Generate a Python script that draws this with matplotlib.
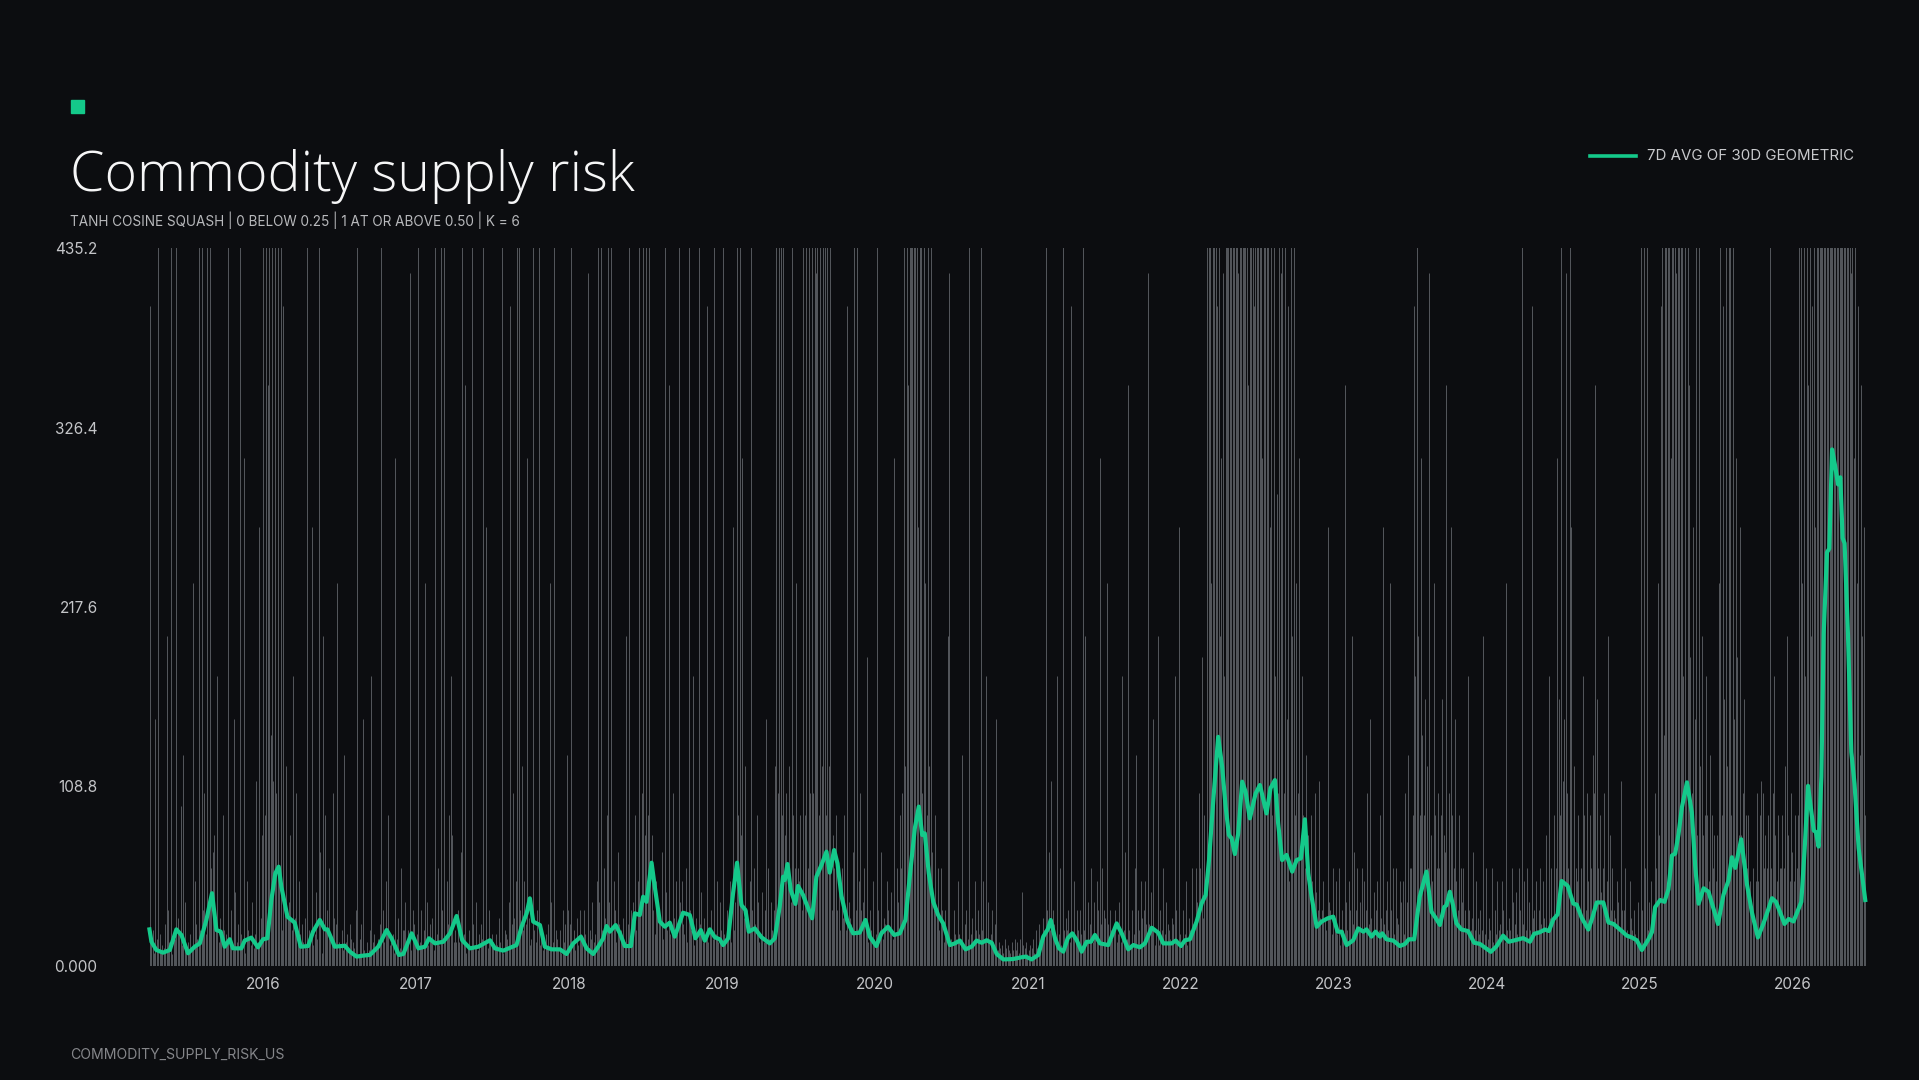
import matplotlib
matplotlib.use("Agg")
from matplotlib import pyplot as plt
from matplotlib.lines import Line2D
from matplotlib.patches import Rectangle
import pandas as pd

BG = "#0c0d10"
GREEN = "#14c98a"
BAR_GREY = "#55585d"

# 7D avg of 30D geometric as (decimal year, value)
line_t = [
    2015.259, 2015.272, 2015.304, 2015.348, 2015.392, 2015.435, 2015.468, 2015.511, 2015.555, 2015.588,
    2015.631, 2015.668, 2015.697, 2015.725, 2015.751, 2015.784, 2015.805, 2015.860, 2015.882, 2015.925,
    2015.969, 2016.002, 2016.030, 2016.056, 2016.082, 2016.104, 2016.121, 2016.161, 2016.208, 2016.248,
    2016.296, 2016.328, 2016.372, 2016.405, 2016.422, 2016.470, 2016.535, 2016.568, 2016.612, 2016.655,
    2016.699, 2016.753, 2016.808, 2016.840, 2016.888, 2016.917, 2016.971, 2017.015, 2017.058, 2017.084,
    2017.124, 2017.178, 2017.222, 2017.265, 2017.302, 2017.352, 2017.407, 2017.483, 2017.516, 2017.570,
    2017.657, 2017.690, 2017.723, 2017.744, 2017.766, 2017.810, 2017.842, 2017.886, 2017.941, 2017.984,
    2018.028, 2018.078, 2018.115, 2018.158, 2018.191, 2018.224, 2018.246, 2018.267, 2018.305, 2018.333,
    2018.365, 2018.405, 2018.431, 2018.463, 2018.485, 2018.507, 2018.540, 2018.561, 2018.594, 2018.627,
    2018.659, 2018.692, 2018.746, 2018.790, 2018.827, 2018.862, 2018.888, 2018.921, 2018.954, 2018.986,
    2019.008, 2019.041, 2019.073, 2019.099, 2019.128, 2019.154, 2019.176, 2019.215, 2019.259, 2019.313,
    2019.346, 2019.378, 2019.400, 2019.411, 2019.429, 2019.450, 2019.481, 2019.498, 2019.531, 2019.553,
    2019.590, 2019.618, 2019.651, 2019.684, 2019.705, 2019.734, 2019.756, 2019.782, 2019.821, 2019.858,
    2019.901, 2019.939, 2019.967, 2020.010, 2020.043, 2020.086, 2020.126, 2020.163, 2020.200, 2020.228,
    2020.261, 2020.287, 2020.309, 2020.326, 2020.352, 2020.381, 2020.413, 2020.446, 2020.490, 2020.522,
    2020.555, 2020.592, 2020.631, 2020.664, 2020.697, 2020.729, 2020.762, 2020.795, 2020.838, 2020.900,
    2020.958, 2020.984, 2021.023, 2021.067, 2021.099, 2021.128, 2021.148, 2021.176, 2021.202, 2021.230,
    2021.259, 2021.289, 2021.318, 2021.350, 2021.383, 2021.411, 2021.437, 2021.470, 2021.524, 2021.550,
    2021.579, 2021.612, 2021.655, 2021.688, 2021.731, 2021.764, 2021.808, 2021.851, 2021.884, 2021.939,
    2021.965, 2022.000, 2022.026, 2022.058, 2022.102, 2022.135, 2022.161, 2022.183, 2022.211, 2022.243,
    2022.269, 2022.292, 2022.313, 2022.331, 2022.352, 2022.374, 2022.400, 2022.422, 2022.450, 2022.488,
    2022.516, 2022.559, 2022.585, 2022.614, 2022.635, 2022.661, 2022.690, 2022.727, 2022.756, 2022.784,
    2022.810, 2022.832, 2022.854, 2022.887, 2022.919, 2022.959, 2022.995, 2023.024, 2023.050, 2023.083,
    2023.126, 2023.159, 2023.192, 2023.213, 2023.246, 2023.272, 2023.301, 2023.316, 2023.344, 2023.388,
    2023.431, 2023.464, 2023.490, 2023.525, 2023.561, 2023.605, 2023.638, 2023.660, 2023.693, 2023.721,
    2023.736, 2023.758, 2023.779, 2023.801, 2023.834, 2023.877, 2023.917, 2023.954, 2023.987, 2024.026,
    2024.063, 2024.106, 2024.143, 2024.183, 2024.237, 2024.281, 2024.309, 2024.346, 2024.379, 2024.405,
    2024.433, 2024.462, 2024.488, 2024.527, 2024.564, 2024.586, 2024.619, 2024.662, 2024.688, 2024.717,
    2024.760, 2024.793, 2024.826, 2024.880, 2024.913, 2024.946, 2024.978, 2025.011, 2025.054, 2025.077,
    2025.098, 2025.131, 2025.159, 2025.185, 2025.208, 2025.229, 2025.251, 2025.273, 2025.306, 2025.338,
    2025.360, 2025.382, 2025.415, 2025.447, 2025.480, 2025.509, 2025.545, 2025.578, 2025.600, 2025.622,
    2025.661, 2025.698, 2025.731, 2025.770, 2025.807, 2025.839, 2025.862, 2025.888, 2025.916, 2025.944,
    2025.971, 2026.003, 2026.026, 2026.054, 2026.076, 2026.098, 2026.119, 2026.135, 2026.150, 2026.167,
    2026.185, 2026.200, 2026.222, 2026.237, 2026.255, 2026.276, 2026.294, 2026.309, 2026.324, 2026.337,
    2026.359, 2026.381, 2026.402, 2026.429, 2026.472,
]
line_v = [
    22.2, 14.7, 9.7, 8.1, 9.7, 22.2, 18.8, 7.7, 11.7, 13.7,
    27.9, 44.1, 21.8, 20.8, 11.7, 16.2, 10.7, 10.7, 15.4, 17.2,
    11.3, 16.2, 16.8, 40.0, 56.2, 60.2, 48.1, 29.9, 26.3, 11.7,
    12.1, 20.8, 27.9, 22.2, 22.2, 11.7, 12.3, 8.7, 5.7, 6.3,
    6.7, 11.7, 21.8, 16.8, 6.7, 7.3, 19.8, 10.7, 11.7, 16.8,
    13.7, 14.7, 19.8, 30.3, 15.6, 10.7, 11.7, 15.6, 10.7, 9.3,
    12.7, 23.8, 31.9, 41.0, 26.9, 24.8, 11.7, 10.1, 10.1, 7.3,
    13.7, 17.8, 10.7, 7.3, 11.7, 16.8, 24.2, 20.8, 24.8, 19.8,
    12.1, 12.1, 31.9, 30.9, 42.0, 38.9, 62.6, 48.1, 26.9, 23.8,
    26.3, 17.8, 32.3, 30.9, 16.8, 21.8, 15.4, 22.2, 17.4, 16.2,
    12.7, 16.8, 44.1, 62.6, 36.9, 33.9, 20.8, 22.8, 17.4, 13.7,
    16.8, 35.9, 54.1, 52.1, 61.8, 46.1, 37.6, 48.5, 43.0, 37.6,
    28.9, 54.1, 61.2, 69.3, 56.6, 70.3, 62.2, 42.4, 26.9, 19.8,
    20.2, 27.9, 17.8, 12.1, 19.8, 23.8, 18.8, 19.8, 27.9, 54.1,
    83.4, 96.6, 79.4, 80.4, 56.2, 39.0, 30.9, 25.8, 12.7, 13.7,
    15.4, 10.1, 11.7, 15.4, 14.1, 15.6, 14.1, 7.3, 4.0, 4.2,
    5.3, 5.7, 4.0, 6.7, 17.8, 22.2, 27.9, 16.8, 10.7, 8.7,
    16.8, 19.8, 15.6, 8.7, 14.7, 14.7, 18.8, 13.7, 12.7, 18.8,
    25.8, 19.8, 10.1, 12.7, 11.3, 13.7, 23.2, 20.2, 13.7, 13.7,
    15.4, 12.1, 15.6, 16.2, 26.9, 38.0, 43.0, 64.2, 100.5, 138.9,
    120.7, 96.4, 79.4, 77.4, 67.9, 80.4, 111.7, 105.7, 89.5, 104.6,
    109.7, 92.5, 107.7, 112.7, 86.5, 64.2, 67.3, 57.2, 64.2, 65.3,
    88.9, 56.2, 42.0, 23.8, 26.9, 28.9, 29.9, 20.8, 20.8, 12.7,
    15.6, 22.8, 20.8, 22.2, 17.8, 20.8, 17.8, 19.8, 16.2, 15.4,
    12.1, 13.3, 16.2, 16.2, 42.0, 57.2, 32.9, 29.9, 24.9, 35.7,
    36.8, 45.0, 36.8, 25.9, 22.1, 21.2, 14.1, 13.4, 11.2, 8.6,
    11.9, 18.4, 14.7, 15.6, 16.9, 14.7, 19.5, 20.5, 22.1, 21.2,
    28.1, 31.3, 51.5, 48.6, 37.8, 37.2, 29.2, 22.1, 29.2, 38.5,
    38.5, 26.4, 25.5, 21.2, 18.4, 17.3, 15.6, 9.7, 16.2, 20.5,
    35.7, 40.0, 38.9, 46.5, 67.0, 68.1, 80.0, 96.2, 111.3, 93.0,
    60.5, 37.8, 47.1, 45.0, 34.6, 25.5, 43.2, 51.9, 65.9, 59.5,
    76.8, 49.7, 32.4, 17.3, 25.9, 34.6, 41.1, 38.9, 32.4, 25.5,
    28.5, 27.0, 32.4, 38.9, 71.3, 109.2, 94.0, 82.2, 81.1, 72.4,
    114.6, 201.1, 250.8, 253.0, 313.1, 302.7, 291.9, 296.2, 259.4, 256.2,
    201.1, 129.7, 110.3, 71.3, 40.0,
]

# daily raw values, coarsened to about two marks a week, one character per mark;
# a character's position in LEVEL_CHARS picks its height from LEVELS
# ("z" runs off the top of the axis)
LEVEL_CHARS = "0123456789abcdefghijklmnopqrstuvwxyzABCDEFGHIJKL"
LEVELS = [3.0, 3.5, 4.0, 4.6, 5.3, 6.1, 7.1, 8.1, 9.4, 10.8,
          12.5, 14.4, 16.6, 19.1, 22.0, 25.4, 29.3, 33.8, 38.9, 44.9,
          51.7, 59.7, 68.8, 79.3, 91.4, 105, 121, 140, 162, 187,
          215, 248, 286, 330, 380, 440,
          176, 200, 232, 266, 308, 352, 400, 420, 150, 128, 112, 97]

bars_2015 = ("Gbe7Iczd8" "a9fBhbz6e" "czgdLaJi8" "b7d9Ckfcz" "ezhpdzizl"
             "mnfAbgcoe" "dazch8Ijb" "fzdbE7kec" "ai9dKbDgn")
bars_2016 = ("zozFzrzKz" "pzlzeGhqg" "ineAgpbkd" "fbg9zecDa" "djczm7Boe" "hldcpgfCb"
             "ae8Jbd7fc" "b9hz6cfI8" "7b8eAbd9a" "cfzhbkeoa" "bd7Ecg9le" "eiaeH8hfb")
bars_2017 = ("dzbh9eCia" "fcg8zdlaz" "hzckfoAnb" "ebhbmzdF7" "ae9zfai8d" "fczbD9hcd"
             "b9dagbz7e" "dciGfpgkz" "zhqekfEga" "czebhzad8" "ad9fCibze" "c8e7hbfJh")
bars_2018 = ("fzbe8gahd" "bhd9Hecib" "dkzizelgo" "zizekhbmf" "ecgbBfzhd" "ioekzipzn"
             "zozlnhdki" "hfmczjeFd" "epgkdzikf" "dlbzheAag" "czfjbgdGb" "ehczdkbie")
bars_2019 = ("zdchfkbDe" "izoznEgqh" "ekzhlfoib" "djbhIlcie" "hqzpzzozn" "plqizolCl"
             "kohzozlzp" "zpzHzozqz" "zozqzhnlo" "hkelgoeGi" "gfmzhzkph" "ilftbhekc")
bars_2020 = ("dzhemcgfk" "hejcEdlio" "lpzqzFzzz" "zzzDzzpzC" "ozqzmhohl" "elhbheBHc"
             "bhdckdbJa" "fhczdgbke" "hdzekcAib" "dhbfI8b9a" "7c9a87b8c" "8b7cja9b6")
bars_2021 = ("8a9c7e9fb" "bgezhmeKh" "fbAdlazeg" "ehbGdkbhe" "hdzeBbifl" "bidkhEflh"
             "gCfhecfhb" "dibAemcFe" "ahdlJhekg" "hkfHfjeIa" "eBaheldif" "ecgfAhcDd")
bars_2022 = ("bhdkagelf" "elipltgok" "zzzCzzzGz" "BEHAzzzzz" "zzzzHzzzz" "zzFzzzGzz"
             "zzzEzzzzD" "zozAwpzHz" "pzIGkzBzo" "CpEnAolJn" "kokhpjhKg" "hkgeDihdl")
bars_2023 = ("gkdlaheFi" "ekhBfmhle" "ilekhpfIg" "djhkeogDf" "hkeChldlg" "fkikdpiJl"
             "loGAzBoEr" "osqlHnkCo" "lplosnmFj" "pDolIkhol" "ilheAhegm" "ekgdheBdl")
bars_2024 = ("cgelbhdke" "fkhbCegel" "ifjdlhzfk" "elieGghke" "hlfkgneAg" "lgolEsozK"
             "IHplzDiql" "kohlAohpk" "olJpFsloj" "lpgkBnhlh" "gkieKhhle" "dkgehdbia")
bars_2025 = ("zhzlzeikd" "gplCnGzrz" "zzzEzzzHz" "zzzAzpzFt" "pDIznzqBn" "oAokJolnk"
             "nCzoGszqz" "zozIEtnDn" "psolokhlg" "kpkoKplnl" "ozlpAnkol" "lolqBnkpm")
bars_2026 = ("kolozzCzA" "zFzBGzDzz" "zzzzzzzzz" "zzzzzzzzz" "zzzzHzEzC" "GJFBDo")

x_start, x_end = 2015.256, 2026.477
bar_spans = [
    (x_start, 2016.0, bars_2015), (2016.0, 2017.0, bars_2016), (2017.0, 2018.0, bars_2017),
    (2018.0, 2019.0, bars_2018), (2019.0, 2020.0, bars_2019), (2020.0, 2021.0, bars_2020),
    (2021.0, 2022.0, bars_2021), (2022.0, 2023.0, bars_2022), (2023.0, 2024.0, bars_2023),
    (2024.0, 2025.0, bars_2024), (2025.0, 2026.0, bars_2025), (2026.0, x_end, bars_2026),
]

y_ticks = [0, 108.8, 217.6, 326.4, 435.2]
y_labels = ["0.000", "108.8", "217.6", "326.4", "435.2"]
x_years = list(range(2016, 2027))


def dec_to_date(y):
    year = int(y)
    start = pd.Timestamp(year=year, month=1, day=1)
    end = pd.Timestamp(year=year + 1, month=1, day=1)
    return start + (end - start) * (y - year)


def main() -> None:
    plt.rcParams["font.family"] = ["Inter", "Roboto", "DejaVu Sans"]

    fig = plt.figure(figsize=(19.19, 10.8), dpi=100, facecolor=BG)
    ax = fig.add_axes([149 / 1919, 1 - 966 / 1080, (1866 - 149) / 1919, (966 - 248) / 1080])
    ax.set_facecolor(BG)

    bar_x, bar_h = [], []
    for start, end, levels in bar_spans:
        n = len(levels)
        for i, ch in enumerate(levels):
            bar_x.append(dec_to_date(start + (end - start) * (i + 0.5) / n))
            bar_h.append(LEVELS[LEVEL_CHARS.index(ch)])
    ax.vlines(bar_x, 0, bar_h, colors=BAR_GREY, linewidth=0.7, zorder=1)

    ax.plot([dec_to_date(t) for t in line_t], line_v, color=GREEN, linewidth=3.0,
            solid_joinstyle="round", zorder=3, clip_on=False)

    ax.set_xlim(dec_to_date(x_start), dec_to_date(x_end))
    ax.set_ylim(0, 435.2)
    ax.set_yticks(y_ticks, labels=y_labels)
    ax.set_xticks([pd.Timestamp(year=y, month=1, day=1) for y in x_years],
                  labels=[str(y) for y in x_years])
    ax.tick_params(axis="y", length=0, pad=37, labelsize=11, labelcolor="#c4c5c8")
    ax.tick_params(axis="x", length=0, pad=8, labelsize=11, labelcolor="#c4c5c8")
    for s in ax.spines.values():
        s.set_visible(False)

    # header
    fig.patches.append(Rectangle((71 / 1919, 1 - 113 / 1080), 13 / 1919, 13 / 1080,
                                 transform=fig.transFigure, color=GREEN))
    fig.text(70 / 1919, 1 - 191 / 1080, "Commodity supply risk", fontsize=40,
             fontweight="light", color="#f6f6f7", va="baseline",
             family=["Open Sans", "Roboto", "DejaVu Sans"])
    fig.text(70 / 1919, 1 - 226 / 1080,
             "TANH COSINE SQUASH | 0 BELOW 0.25 | 1 AT OR ABOVE 0.50 | K = 6",
             fontsize=9.75, color="#b8b9bc", va="baseline")

    # legend
    fig.lines.append(Line2D([1590 / 1919, 1636 / 1919], [1 - 156 / 1080] * 2,
                            transform=fig.transFigure, color=GREEN, linewidth=2.6))
    fig.text(1647 / 1919, 1 - 156 / 1080, "7D AVG OF 30D GEOMETRIC", fontsize=10.8,
             color="#c8c9cc", va="center")

    fig.text(70 / 1919, 1 - 1055 / 1080, "COMMODITY_SUPPLY_RISK_US", fontsize=10.1,
             color="#85868a", va="center")

    fig.savefig("out.png", dpi=100, facecolor=BG)


if __name__ == "__main__":
    main()
